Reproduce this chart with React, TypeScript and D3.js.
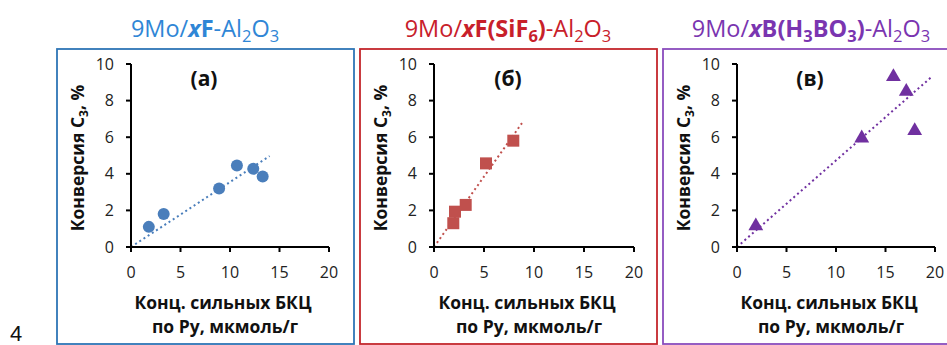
import React from "react";
import * as d3 from "d3";

// ticks shared by all three panels
const xTicks = [0, 5, 10, 15, 20];
const yTicks = [0, 2, 4, 6, 8, 10];

// (a) 9Mo/xF-Al2O3
const fX = [1.8, 3.3, 8.9, 10.7, 12.35, 13.3];
const fY = [1.1, 1.8, 3.2, 4.45, 4.27, 3.85];
const fTrendX = [0, 14];
const fTrendY = [0, 4.97];

// (б) 9Mo/xF(SiF6)-Al2O3
const siX = [1.93, 2.1, 3.17, 5.2, 7.93];
const siY = [1.3, 1.93, 2.3, 4.57, 5.81];
const siTrendX = [0, 8.9];
const siTrendY = [0, 6.85];

// (в) 9Mo/xB(H3BO3)-Al2O3
const bX = [1.9, 12.6, 15.8, 17.1, 17.95];
const bY = [1.15, 5.95, 9.3, 8.5, 6.35];
const bTrendX = [0, 19.6];
const bTrendY = [0, 9.27];

const FONT = "'Open Sans', 'Noto Sans', sans-serif";

type Part = { t: string; b?: boolean; i?: boolean; sub?: boolean };

type PanelCfg = {
    key: string;
    box: [number, number];      // left/right of frame
    titleX: number;
    x0: number;                 // pixel of x = 0
    x1: number;                 // pixel of x = 20
    xs: number[];
    ys: number[];
    tx: number[];
    ty: number[];
    marker: "circle" | "square" | "triangle";
    markerColor: string;
    titleColor: string;
    boxColor: string;
    label: string;
    title: Part[];
};

const TOP = 64, BOTTOM = 247;

// title pieces with subscripts; dy shifts back after each subscript
function titleSpans(parts: Part[]) {
    let low = false;
    return parts.map((p, k) => {
        let dy = 0;
        if (p.sub && !low) { dy = 5; low = true; }
        else if (!p.sub && low) { dy = -5; low = false; }
        return (
            <tspan key={k} dy={dy || undefined} fontSize={p.sub ? 16.5 : undefined}
                fontWeight={p.b ? "bold" : "normal"} fontStyle={p.i ? "italic" : "normal"}>{p.t}</tspan>
        );
    });
}

function Panel({ cfg }: { cfg: PanelCfg }) {
    const x = d3.scaleLinear().domain([0, 20]).range([cfg.x0, cfg.x1]);
    const y = d3.scaleLinear().domain([0, 10]).range([BOTTOM, TOP]);
    const line = d3.line<number>().x((_, i) => x(cfg.tx[i])).y(d => y(d));
    const sym = cfg.marker === "circle" ? null
        : d3.symbol().type(cfg.marker === "square" ? d3.symbolSquare : d3.symbolTriangle)
            .size(cfg.marker === "square" ? 144 : 95);
    const mid = (cfg.x0 + cfg.x1) / 2;

    return (
        <g>
            <rect x={cfg.box[0]} y={49} width={cfg.box[1] - cfg.box[0]} height={295}
                fill="none" stroke={cfg.boxColor} strokeWidth={1.8} />
            <text x={cfg.titleX} y={37} textAnchor="middle" fontSize={23.5} fill={cfg.titleColor} fontFamily={FONT}>
                {titleSpans(cfg.title)}
            </text>

            {/* trendline */}
            <path d={line(cfg.ty) || ""} fill="none" stroke={cfg.markerColor} strokeWidth={2}
                strokeDasharray="2 3" />

            {/* axes */}
            <line x1={cfg.x0} x2={cfg.x1} y1={BOTTOM} y2={BOTTOM} stroke="#000" strokeWidth={2} />
            <line x1={cfg.x0} x2={cfg.x0} y1={TOP} y2={BOTTOM} stroke="#000" strokeWidth={2} />
            {xTicks.map(t => (
                <g key={"x" + t}>
                    <line x1={x(t)} x2={x(t)} y1={BOTTOM} y2={BOTTOM + 5} stroke="#000" strokeWidth={2} />
                    <text x={x(t)} y={278} textAnchor="middle" fontSize={16} fontFamily={FONT} fill="#222">{t}</text>
                </g>
            ))}
            {yTicks.map(t => (
                <g key={"y" + t}>
                    <line x1={cfg.x0 - 5} x2={cfg.x0} y1={y(t)} y2={y(t)} stroke="#000" strokeWidth={2} />
                    <text x={cfg.x0 - 17} y={y(t) + 5.5} textAnchor="end" fontSize={16} fontFamily={FONT} fill="#222">{t}</text>
                </g>
            ))}

            {/* markers */}
            {cfg.xs.map((v, i) => cfg.marker === "circle"
                ? <circle key={i} cx={x(v)} cy={y(cfg.ys[i])} r={6} fill={cfg.markerColor} />
                : <path key={i} d={sym!() || ""} transform={`translate(${x(v)},${y(cfg.ys[i])})`} fill={cfg.markerColor} />
            )}

            <text x={mid - 26} y={86} textAnchor="middle" fontSize={21} fontWeight="bold" fontFamily={FONT} fill="#111">{cfg.label}</text>

            {/* axis titles */}
            <text x={mid - 7} y={309} textAnchor="middle" fontSize={17.5} fontWeight="bold" fontFamily={FONT} fill="#111">Конц. сильных БКЦ</text>
            <text x={mid - 5} y={333} textAnchor="middle" fontSize={17.5} fontWeight="bold" fontFamily={FONT} fill="#111">по Py, мкмоль/г</text>
            <text transform={`translate(${cfg.x0 - 47},${158}) rotate(-90)`} textAnchor="middle" fontSize={17.5}
                fontWeight="bold" fontFamily={FONT} fill="#111">
                <tspan>Конверсия C</tspan><tspan fontSize={12} dy={4}>3</tspan><tspan dy={-4}>, %</tspan>
            </text>
        </g>
    );
}

const panels: PanelCfg[] = [
    {
        key: "a", box: [57, 354], titleX: 205, x0: 131, x1: 329, xs: fX, ys: fY, tx: fTrendX, ty: fTrendY,
        marker: "circle", markerColor: "#4a7ebb", titleColor: "#2f86d6", boxColor: "#2e75b6", label: "(a)",
        title: [{ t: "9Mo/" }, { t: "x", b: true, i: true }, { t: "F", b: true }, { t: "-Al" }, { t: "2", sub: true }, { t: "O" }, { t: "3", sub: true }]
    },
    {
        key: "b", box: [360, 657], titleX: 508, x0: 434, x1: 634, xs: siX, ys: siY, tx: siTrendX, ty: siTrendY,
        marker: "square", markerColor: "#c0504d", titleColor: "#c8202a", boxColor: "#c4262c", label: "(б)",
        title: [{ t: "9Mo/" }, { t: "x", b: true, i: true }, { t: "F(SiF", b: true }, { t: "6", b: true, sub: true }, { t: ")", b: true }, { t: "-Al" }, { t: "2", sub: true }, { t: "O" }, { t: "3", sub: true }]
    },
    {
        key: "c", box: [663, 960], titleX: 811, x0: 737, x1: 935, xs: bX, ys: bY, tx: bTrendX, ty: bTrendY,
        marker: "triangle", markerColor: "#7030a0", titleColor: "#7a35b0", boxColor: "#8a4cbd", label: "(в)",
        title: [{ t: "9Mo/" }, { t: "x", b: true, i: true }, { t: "B(H", b: true }, { t: "3", b: true, sub: true }, { t: "BO", b: true }, { t: "3", b: true, sub: true }, { t: ")", b: true }, { t: "-Al" }, { t: "2", sub: true }, { t: "O" }, { t: "3", sub: true }]
    },
];

export default function App() {
    return (
        <svg width={947} height={345} style={{ position: "absolute", left: 0, top: 0, background: "#fff" }}>
            <rect width={947} height={345} fill="#fff" />
            <text x={10} y={341} fontSize={22} fontFamily="'Liberation Sans', Arial, sans-serif" fill="#111">4</text>
            {panels.map(p => <Panel key={p.key} cfg={p} />)}
        </svg>
    );
}
